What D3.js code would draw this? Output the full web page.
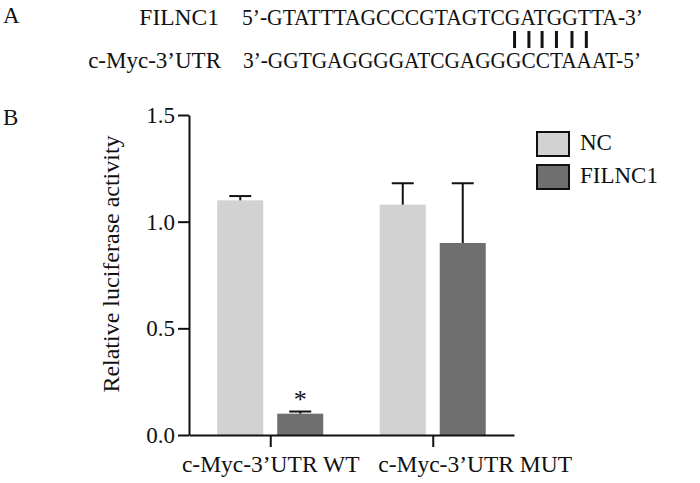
<!DOCTYPE html>
<html>
<head>
	<meta charset="utf-8">
	<script src="https://d3js.org/d3.v7.min.js"></script>
	<style>
		body { margin: 0; background: #fff; }
		svg text { font-family: "Liberation Serif", "Times New Roman", serif; fill: #111; }
	</style>
</head>
<body>
	<div id="chart"></div>

	<script>
		// panel A: sequence pairing
		var seqTopLabel = "FILNC1";
		var seqBottomLabel = "c-Myc-3’UTR";
		var seqTop = "5’-GTATTTAGCCCGTAGTCGATGGTTA-3’";
		var seqBottom = "3’-GGTGAGGGGATCGAGGGCCTAAAT-5’";
		var pairedIdx = [20, 21, 22, 23, 24, 25]; // characters of seqTop that pair

		// panel B: luciferase assay
		var groups = ["c-Myc-3’UTR WT", "c-Myc-3’UTR MUT"];
		var seriesNames = ["NC", "FILNC1"];
		var ncMeans = [1.10, 1.08];
		var ncErr = [0.02, 0.10];
		var filncMeans = [0.10, 0.90];
		var filncErr = [0.01, 0.28];
		var significant = [false, true, false, false]; // per bar, group-major
		var yTicks = [0, 0.5, 1.0, 1.5];
		var colors = ["#d2d2d2", "#6f6f6f"];

		var width = 700, height = 483;
		var svg = d3.select("#chart").append("svg")
			.attr("width", width)
			.attr("height", height);

		// ---- panel A
		svg.append("text").attr("x", 3).attr("y", 23).attr("font-size", 23).text("A");

		var seqX = 242;
		var topLine = svg.append("text")
			.attr("x", seqX).attr("y", 25)
			.attr("font-size", 23)
			.attr("textLength", 401)
			.attr("lengthAdjust", "spacingAndGlyphs")
			.text(seqTop);
		svg.append("text")
			.attr("x", seqX + 1).attr("y", 68)
			.attr("font-size", 23)
			.attr("textLength", 398)
			.attr("lengthAdjust", "spacingAndGlyphs")
			.text(seqBottom);
		svg.append("text").attr("x", 219).attr("y", 25).attr("font-size", 23.5)
			.attr("text-anchor", "end").text(seqTopLabel);
		svg.append("text").attr("x", 221).attr("y", 68).attr("font-size", 23)
			.attr("text-anchor", "end").text(seqBottomLabel);

		var topNode = topLine.node();
		function charMid(i) {
			return (topNode.getStartPositionOfChar(i).x + topNode.getEndPositionOfChar(i).x) / 2 + 2;
		}
		svg.selectAll("line.pair")
			.data(pairedIdx)
			.enter()
			.append("line")
			.attr("class", "pair")
			.attr("x1", charMid)
			.attr("x2", charMid)
			.attr("y1", 31)
			.attr("y2", 48)
			.attr("stroke", "#111")
			.attr("stroke-width", 3);

		// ---- panel B
		svg.append("text").attr("x", 3).attr("y", 125).attr("font-size", 23).text("B");

		var margin = { top: 115, left: 189, bottom: 435, right: 514 };

		var y = d3.scaleLinear().domain([0, 1.5]).range([margin.bottom, margin.top]);
		var x0 = d3.scalePoint().domain(groups).range([margin.left, margin.right]).padding(0.5);
		var x1 = d3.scaleBand().domain(seriesNames).range([-53, 53]).paddingInner(0.233);

		var bars = [];
		groups.forEach(function(g, i) {
			bars.push({ group: g, series: seriesNames[0], value: ncMeans[i], err: ncErr[i] });
			bars.push({ group: g, series: seriesNames[1], value: filncMeans[i], err: filncErr[i] });
		});
		bars.forEach(function(b, i) { b.sig = significant[i]; });

		var color = d3.scaleOrdinal().domain(seriesNames).range(colors);

		var barG = svg.append("g");
		barG.selectAll("rect")
			.data(bars)
			.enter()
			.append("rect")
			.attr("x", function(d) { return x0(d.group) + x1(d.series); })
			.attr("y", function(d) { return y(d.value); })
			.attr("width", x1.bandwidth())
			.attr("height", function(d) { return y(0) - y(d.value); })
			.attr("fill", function(d) { return color(d.series); });

		// error bars (upper only)
		var capW = 22;
		var errG = barG.selectAll("g.err")
			.data(bars)
			.enter()
			.append("g")
			.attr("class", "err")
			.attr("transform", function(d) {
				return "translate(" + (x0(d.group) + x1(d.series) + x1.bandwidth() / 2) + ",0)";
			})
			.attr("stroke", "#111")
			.attr("stroke-width", 2);
		errG.append("line")
			.attr("x1", 0).attr("x2", 0)
			.attr("y1", function(d) { return y(d.value); })
			.attr("y2", function(d) { return y(d.value + d.err); });
		errG.append("line")
			.attr("x1", -capW / 2).attr("x2", capW / 2)
			.attr("y1", function(d) { return y(d.value + d.err); })
			.attr("y2", function(d) { return y(d.value + d.err); });

		barG.selectAll("text.sig")
			.data(bars.filter(function(d) { return d.sig; }))
			.enter()
			.append("text")
			.attr("class", "sig")
			.attr("x", function(d) { return x0(d.group) + x1(d.series) + x1.bandwidth() / 2; })
			.attr("y", function(d) { return y(d.value + d.err) - 4; })
			.attr("text-anchor", "middle")
			.attr("font-size", 26)
			.text("*");

		// axes
		var yAxis = svg.append("g")
			.attr("transform", "translate(" + margin.left + ",0)")
			.call(d3.axisLeft(y).tickValues(yTicks).tickFormat(d3.format(".1f")).tickSize(11).tickSizeOuter(0).tickPadding(3));

		var xAxis = svg.append("g")
			.attr("transform", "translate(0," + margin.bottom + ")")
			.call(d3.axisBottom(x0).tickSize(12).tickSizeOuter(0).tickPadding(8));

		[yAxis, xAxis].forEach(function(ax) {
			ax.selectAll("path, line").attr("stroke", "#111").attr("stroke-width", 2);
			ax.selectAll("text").attr("font-size", 23).attr("fill", "#111")
				.attr("font-family", "'Liberation Serif', 'Times New Roman', serif");
		});
		xAxis.selectAll(".tick text").attr("font-size", 23.5);
		// the second category label sits to the right of its tick in the original
		xAxis.selectAll(".tick text")
			.filter(function(d, i) { return i === 1; })
			.attr("text-anchor", "start")
			.attr("x", -55);

		svg.append("text")
			.attr("transform", "translate(119," + 264 + ") rotate(-90)")
			.attr("text-anchor", "middle")
			.attr("font-size", 24)
			.text("Relative luciferase activity");

		// legend
		var legendY = d3.scalePoint().domain(seriesNames).range([132, 165]);
		var legend = svg.append("g").selectAll("g")
			.data(seriesNames)
			.enter()
			.append("g")
			.attr("transform", function(d) { return "translate(537," + legendY(d) + ")"; });
		legend.append("rect")
			.attr("width", 32)
			.attr("height", 24)
			.attr("fill", function(d) { return color(d); })
			.attr("stroke", "#111")
			.attr("stroke-width", 2);
		legend.append("text")
			.attr("x", 43)
			.attr("y", 18)
			.attr("font-size", 23)
			.text(function(d) { return d; });
	</script>
</body>
</html>
